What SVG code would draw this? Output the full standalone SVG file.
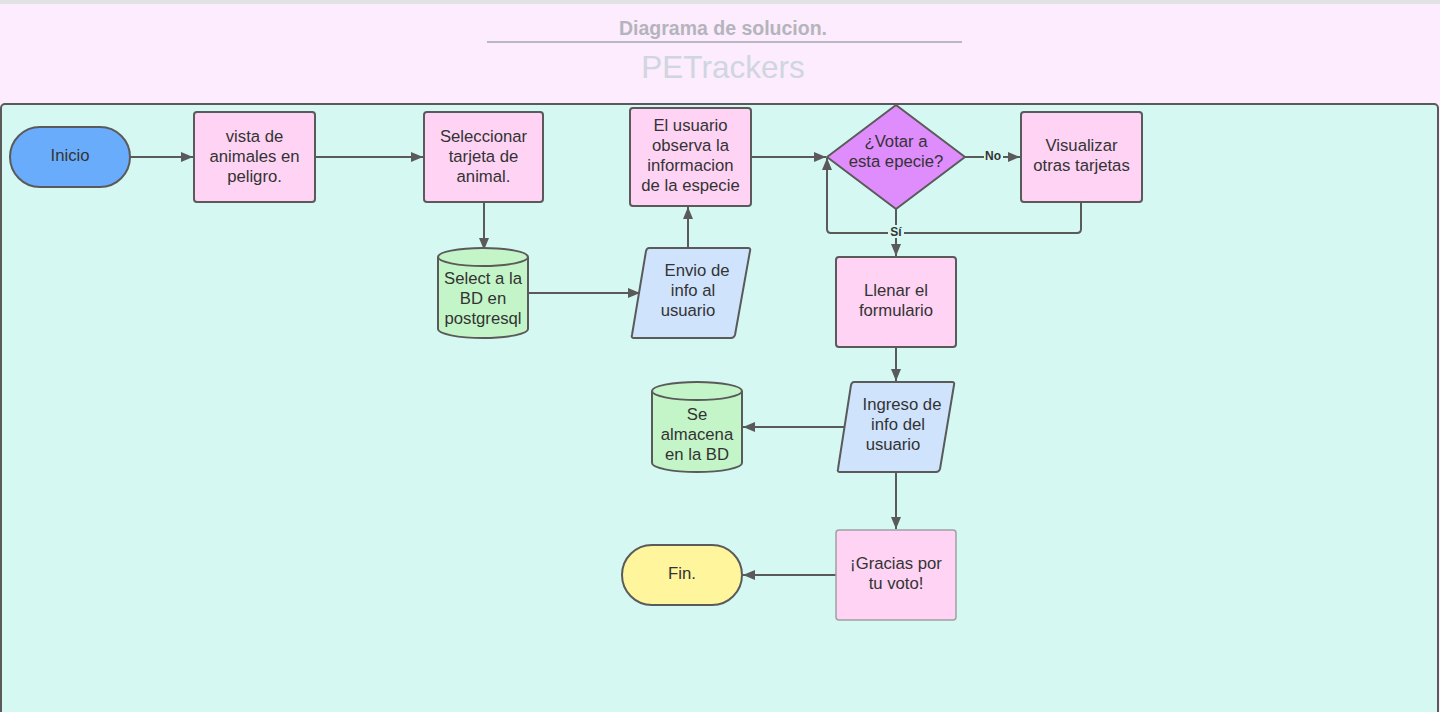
<svg xmlns="http://www.w3.org/2000/svg" width="1440" height="712" viewBox="0 0 1440 712">
<defs>
<style>
.n{stroke:#5a5a5a;stroke-width:2}
.p{fill:#fed3f4}
.t{font-family:"Liberation Sans",Arial,sans-serif;font-size:16.7px;fill:#333333;text-anchor:middle}
.c{fill:none;stroke:#5a5a5a;stroke-width:2}
.lb{font-family:"Liberation Sans",Arial,sans-serif;font-size:12px;font-weight:bold;fill:#333333;text-anchor:middle}
</style>
<marker id="a" viewBox="0 0 12 10" refX="12" refY="5" markerWidth="12" markerHeight="10" markerUnits="userSpaceOnUse" orient="auto">
<path d="M0,0 L12,5 L0,10 Z" fill="#5a5a5a"/>
</marker>
</defs>
<rect x="0" y="0" width="1440" height="712" fill="#fcecfd"/>
<rect x="0" y="0" width="1440" height="4" fill="#e2e2e4"/>
<g id="header">
<text x="723" y="35" font-family="'Liberation Sans',Arial,sans-serif" font-size="19.5" font-weight="bold" fill="#b4b4bc" text-anchor="middle">Diagrama de solucion.</text>
<line x1="487" y1="42" x2="962" y2="42" stroke="#b8b8c2" stroke-width="2"/>
<text x="723" y="78" font-family="'Liberation Sans',Arial,sans-serif" font-size="31.5" fill="#cfd6de" text-anchor="middle">PETrackers</text>
</g>
<rect x="1" y="104" width="1437" height="620" rx="4" fill="#d5f8f2" stroke="#5a5a5a" stroke-width="2"/>
<g id="connectors">
<line class="c" x1="130" y1="157" x2="193" y2="157" marker-end="url(#a)"/>
<line class="c" x1="315" y1="157" x2="423" y2="157" marker-end="url(#a)"/>
<line class="c" x1="484" y1="202" x2="484" y2="250" marker-end="url(#a)"/>
<line class="c" x1="528" y1="293" x2="640" y2="293" marker-end="url(#a)"/>
<line class="c" x1="688" y1="248" x2="688" y2="207" marker-end="url(#a)"/>
<line class="c" x1="751" y1="157" x2="826" y2="157" marker-end="url(#a)"/>
<line class="c" x1="965" y1="157" x2="1020" y2="157" marker-end="url(#a)"/>
<path class="c" d="M1081,202 V229 Q1081,233 1077,233 H831 Q827,233 827,229 V158" marker-end="url(#a)"/>
<line class="c" x1="896" y1="209" x2="896" y2="256" marker-end="url(#a)"/>
<line class="c" x1="896" y1="347" x2="896" y2="381" marker-end="url(#a)"/>
<line class="c" x1="846" y1="427" x2="743" y2="427" marker-end="url(#a)"/>
<line class="c" x1="896" y1="472" x2="896" y2="529" marker-end="url(#a)"/>
<line class="c" x1="836" y1="575" x2="743" y2="575" marker-end="url(#a)"/>
<rect x="984" y="149" width="19" height="13" fill="#d5f8f2"/>
<text class="lb" x="993" y="160">No</text>
<rect x="888" y="225" width="16" height="13" fill="#d5f8f2"/>
<text class="lb" x="896" y="236">Sí</text>
</g>
<g id="inicio">
<rect class="n" x="10" y="127" width="120" height="60" rx="30" fill="#6aacfc"/>
<text class="t" x="70" y="161">Inicio</text>
</g>
<g id="vista">
<rect class="n p" x="194" y="112" width="121" height="90" rx="3"/>
<text class="t" x="254.5" y="142">vista de</text>
<text class="t" x="254.5" y="162">animales en</text>
<text class="t" x="254.5" y="182">peligro.</text>
</g>
<g id="seleccionar">
<rect class="n p" x="424" y="112" width="119" height="90" rx="3"/>
<text class="t" x="483.5" y="142">Seleccionar</text>
<text class="t" x="483.5" y="162">tarjeta de</text>
<text class="t" x="483.5" y="182">animal.</text>
</g>
<g id="select-bd">
<path class="n" d="M438,257 A45,9 0 0 1 528,257 V329 A45,9 0 0 1 438,329 Z" fill="#c4f5c8"/>
<path class="n" d="M438,257 A45,9 0 0 0 528,257" fill="none"/>
<text class="t" x="483" y="284">Select a la</text>
<text class="t" x="483" y="304">BD en</text>
<text class="t" x="483" y="324">postgresql</text>
</g>
<g id="envio">
<path class="n" d="M649,248 H748 Q751,248 750,251 L735,335 Q734,338 731,338 H634 Q631,338 632,335 L646,251 Q647,248 649,248 Z" fill="#cfe3fd"/>
<text class="t" x="697" y="276">Envio de</text>
<text class="t" x="693" y="296">info al</text>
<text class="t" x="688" y="316">usuario</text>
</g>
<g id="usuario-observa">
<rect class="n p" x="630" y="108" width="121" height="98" rx="3"/>
<text class="t" x="690.5" y="131">El usuario</text>
<text class="t" x="690.5" y="151">observa la</text>
<text class="t" x="690.5" y="171">informacion</text>
<text class="t" x="690.5" y="191">de la especie</text>
</g>
<g id="votar">
<path class="n" d="M896,105 L965,157 L896,209 L827,157 Z" fill="#df8cfc" stroke-linejoin="round"/>
<text class="t" x="896" y="147">¿Votar a</text>
<text class="t" x="896" y="167">esta epecie?</text>
</g>
<g id="visualizar">
<rect class="n p" x="1021" y="112" width="121" height="90" rx="3"/>
<text class="t" x="1081.5" y="151">Visualizar</text>
<text class="t" x="1081.5" y="171">otras tarjetas</text>
</g>
<g id="llenar">
<rect class="n p" x="836" y="257" width="120" height="90" rx="3"/>
<text class="t" x="896" y="296">Llenar el</text>
<text class="t" x="896" y="316">formulario</text>
</g>
<g id="ingreso">
<path class="n" d="M854,382 H952 Q955,382 954,385 L940,469 Q939,472 936,472 H840 Q837,472 838,469 L851,385 Q852,382 854,382 Z" fill="#cfe3fd"/>
<text class="t" x="902" y="410">Ingreso de</text>
<text class="t" x="898" y="430">info del</text>
<text class="t" x="893" y="450">usuario</text>
</g>
<g id="almacena">
<path class="n" d="M652,391 A45,9 0 0 1 742,391 V463 A45,9 0 0 1 652,463 Z" fill="#c4f5c8"/>
<path class="n" d="M652,391 A45,9 0 0 0 742,391" fill="none"/>
<text class="t" x="697" y="420">Se</text>
<text class="t" x="697" y="440">almacena</text>
<text class="t" x="697" y="460">en la BD</text>
</g>
<g id="gracias">
<rect x="836" y="530" width="120" height="90" rx="3" fill="#fed3f4" stroke="#a0a0a4" stroke-width="1.5"/>
<text class="t" x="896" y="569">¡Gracias por</text>
<text class="t" x="896" y="589">tu voto!</text>
</g>
<g id="fin">
<rect class="n" x="622" y="545" width="120" height="60" rx="30" fill="#fef59c"/>
<text class="t" x="682" y="579">Fin.</text>
</g>
</svg>
